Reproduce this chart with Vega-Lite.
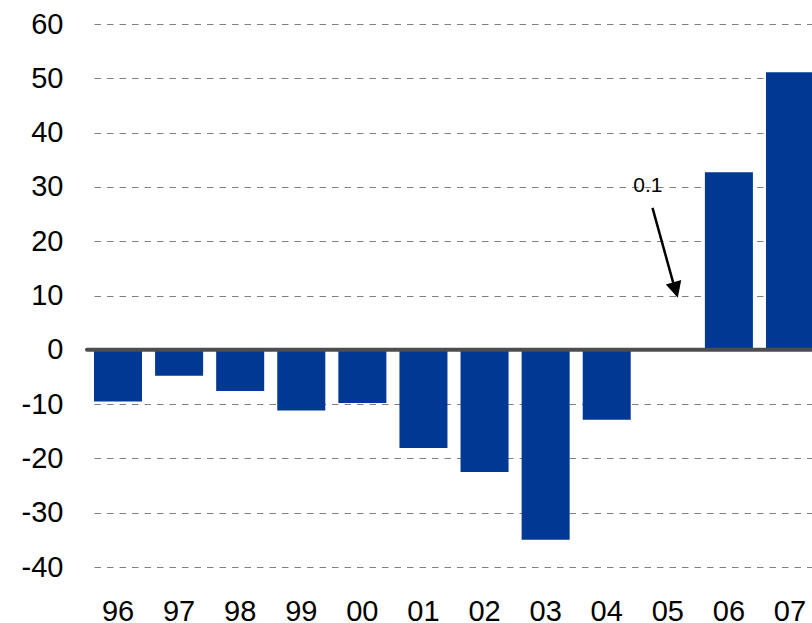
{
  "$schema": "https://vega.github.io/schema/vega-lite/v6.json",
  "width": 725,
  "height": 543,
  "autosize": {"type": "none"},
  "padding": {"left": 87, "top": 24, "right": 0, "bottom": 56},
  "background": "white",
  "config": {"view": {"stroke": null}, "font": "Liberation Sans"},
  "datasets": {
    "bars": [
      {"year": "96", "value": -9.5},
      {"year": "97", "value": -4.8},
      {"year": "98", "value": -7.6},
      {"year": "99", "value": -11.2},
      {"year": "00", "value": -9.8},
      {"year": "01", "value": -18.1},
      {"year": "02", "value": -22.5},
      {"year": "03", "value": -35.0},
      {"year": "04", "value": -12.9},
      {"year": "05", "value": 0.1},
      {"year": "06", "value": 32.7},
      {"year": "07", "value": 51.1}
    ],
    "note": [
      {"year": "05", "label": "0.1", "ty": 29.0, "ay1": 26.15, "ay2": 12.1, "tip": 9.6}
    ]
  },
  "encoding": {
    "x": {
      "field": "year",
      "type": "ordinal",
      "scale": {
        "domain": ["96", "97", "98", "99", "00", "01", "02", "03", "04", "05", "06", "07"],
        "range": [7, 727],
        "paddingInner": 0.214,
        "paddingOuter": 0
      },
      "axis": {
        "domain": false,
        "ticks": false,
        "grid": false,
        "labelAngle": 0,
        "labelFontSize": 29,
        "labelColor": "#000000",
        "labelPadding": 30,
        "title": null
      }
    }
  },
  "layer": [
    {
      "data": {"name": "bars"},
      "mark": {"type": "bar", "color": "#003893", "clip": true},
      "encoding": {
        "y": {
          "field": "value",
          "type": "quantitative",
          "scale": {"domain": [-40, 60], "nice": false},
          "axis": {
            "values": [-40, -30, -20, -10, 0, 10, 20, 30, 40, 50, 60],
            "labelExpr": "'' + datum.value",
            "grid": true,
            "gridColor": "#808080",
            "gridDash": [6.5, 6],
            "gridWidth": 1,
            "domain": false,
            "ticks": false,
            "labelFontSize": 29,
            "labelColor": "#000000",
            "labelPadding": 24,
            "title": null
          }
        }
      }
    },
    {
      "data": {"values": [{"zero": 0}]},
      "mark": {"type": "rule", "color": "#4d4d4d", "strokeWidth": 4, "strokeCap": "round"},
      "encoding": {"y": {"field": "zero", "type": "quantitative"}, "x": null}
    },
    {
      "data": {"name": "note"},
      "mark": {"type": "rule", "color": "#000000", "strokeWidth": 2.5},
      "encoding": {
        "x": {"field": "year", "type": "ordinal", "bandPosition": 0.181},
        "x2": {"field": "year", "bandPosition": 0.62},
        "y": {"field": "ay1", "type": "quantitative"},
        "y2": {"field": "ay2"}
      }
    },
    {
      "data": {"name": "note"},
      "mark": {"type": "point", "shape": "M-1,-2L1,-2L0,0Z", "size": 256, "filled": true, "color": "#000000", "opacity": 1, "angle": 344.5, "strokeWidth": 0},
      "encoding": {
        "x": {"field": "year", "type": "ordinal", "bandPosition": 0.708},
        "y": {"field": "tip", "type": "quantitative"}
      }
    },
    {
      "data": {"name": "note"},
      "mark": {"type": "text", "fontSize": 21, "color": "#000000", "align": "center", "baseline": "alphabetic"},
      "encoding": {
        "x": {"field": "year", "type": "ordinal", "bandPosition": 0.083},
        "y": {"field": "ty", "type": "quantitative"},
        "text": {"field": "label"}
      }
    }
  ]
}
